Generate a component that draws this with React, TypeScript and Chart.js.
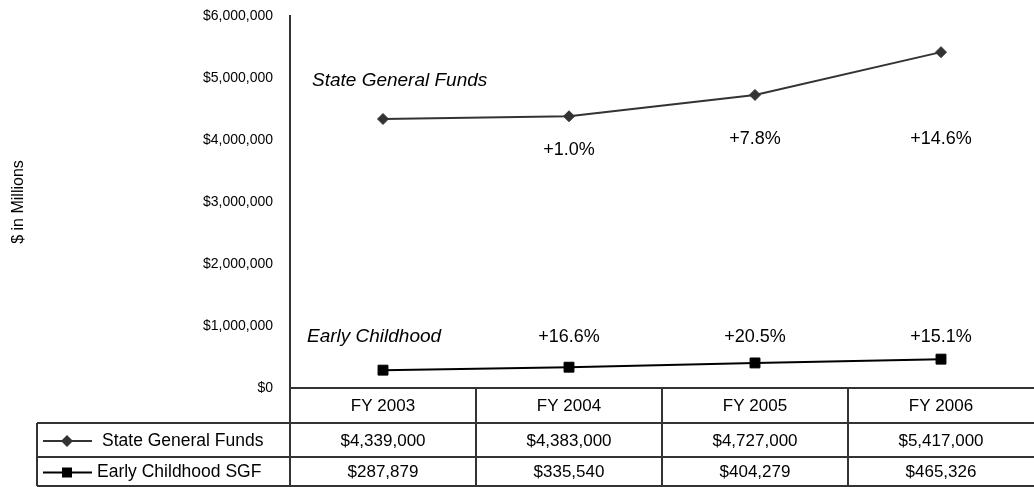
import React, { useEffect, useRef } from 'react';
import { Chart, registerables } from 'chart.js';

Chart.register(...registerables);

const categories = ['FY 2003', 'FY 2004', 'FY 2005', 'FY 2006'];
const stateGeneralFunds = [4339000, 4383000, 4727000, 5417000];
const earlyChildhoodSGF = [287879, 335540, 404279, 465326];
const sgfGrowth = ['', '+1.0%', '+7.8%', '+14.6%'];
const ecGrowth = ['', '+16.6%', '+20.5%', '+15.1%'];
const seriesTableNames = ['State General Funds', 'Early Childhood SGF'];
const seriesChartTitles = ['State General Funds', 'Early Childhood'];
const yAxisTitle = '$ in Millions';
const yMin = 0;
const yMax = 6000000;
const yStep = 1000000;

const FONT = '"Liberation Sans", Arial, Helvetica, sans-serif';
const LINE = '#333333';

const fmtMoney = (v: number) => '$' + Math.round(v).toLocaleString('en-US');

const tablePlugin = {
  id: 'dataTable',
  afterDraw(chart: any) {
    const ctx: CanvasRenderingContext2D = chart.ctx;
    const xs = chart.scales.x;
    const ys = chart.scales.y;
    const n = categories.length;
    const colW = (xs.right - xs.left) / n;
    const headerTop = chart.chartArea.bottom;
    const row1Top = headerTop + 35;
    const row2Top = row1Top + 34;
    const tableBottom = row2Top + 29;
    const tableLeft = 37;

    ctx.save();
    ctx.strokeStyle = LINE;
    ctx.lineWidth = 2;
    ctx.beginPath();
    [row1Top, row2Top, tableBottom].forEach((yy) => {
      ctx.moveTo(tableLeft, yy);
      ctx.lineTo(xs.right + 2, yy);
    });
    ctx.moveTo(tableLeft, row1Top);
    ctx.lineTo(tableLeft, tableBottom);
    ctx.moveTo(xs.left, headerTop);
    ctx.lineTo(xs.left, tableBottom);
    for (let i = 1; i < n; i++) {
      const bx = Math.round(xs.left + i * colW);
      ctx.moveTo(bx, headerTop);
      ctx.lineTo(bx, tableBottom);
    }
    ctx.stroke();

    // header labels & values
    ctx.fillStyle = '#000';
    ctx.textAlign = 'center';
    ctx.textBaseline = 'middle';
    ctx.font = `17px ${FONT}`;
    const r0 = (headerTop + row1Top) / 2 + 1;
    const r1 = (row1Top + row2Top) / 2 + 1;
    const r2 = (row2Top + tableBottom) / 2 + 1;
    categories.forEach((c, i) => {
      const cx = xs.getPixelForValue(i);
      ctx.fillText(c, cx, r0);
      ctx.fillText(fmtMoney(stateGeneralFunds[i]), cx, r1);
      ctx.fillText(fmtMoney(earlyChildhoodSGF[i]), cx, r2);
    });

    // legend keys
    ctx.strokeStyle = LINE;
    ctx.lineWidth = 2;
    ctx.beginPath();
    ctx.moveTo(43, r1);
    ctx.lineTo(92, r1);
    ctx.stroke();
    ctx.fillStyle = LINE;
    ctx.beginPath();
    ctx.moveTo(67 - 6, r1);
    ctx.lineTo(67, r1 - 6);
    ctx.lineTo(67 + 6, r1);
    ctx.lineTo(67, r1 + 6);
    ctx.closePath();
    ctx.fill();

    ctx.strokeStyle = '#000';
    ctx.beginPath();
    ctx.moveTo(43, r2);
    ctx.lineTo(92, r2);
    ctx.stroke();
    ctx.fillStyle = '#000';
    ctx.fillRect(62, r2 - 5, 10, 10);

    ctx.fillStyle = '#000';
    ctx.textAlign = 'left';
    ctx.font = `17.5px ${FONT}`;
    ctx.fillText(seriesTableNames[0], 102, r1);
    ctx.fillText(seriesTableNames[1], 97, r2);

    // in-chart annotations
    ctx.font = `italic 19px ${FONT}`;
    ctx.fillText(seriesChartTitles[0], xs.left + 22, ys.getPixelForValue(4950000));
    ctx.fillText(seriesChartTitles[1], xs.left + 17, ys.getPixelForValue(820000));

    ctx.textAlign = 'center';
    ctx.font = `18px ${FONT}`;
    const sgfLabelVals = [0, 3840000, 4020000, 4020000];
    sgfGrowth.forEach((t, i) => {
      if (!t) return;
      ctx.fillText(t, xs.getPixelForValue(i), ys.getPixelForValue(sgfLabelVals[i]));
    });
    ecGrowth.forEach((t, i) => {
      if (!t) return;
      ctx.fillText(t, xs.getPixelForValue(i), ys.getPixelForValue(820000));
    });
    ctx.restore();
  },
};

export default function App() {
  const ref = useRef<HTMLCanvasElement | null>(null);

  useEffect(() => {
    if (!ref.current) return;
    Chart.defaults.font.family = FONT;
    const chart = new Chart(ref.current, {
      type: 'line',
      data: {
        labels: categories,
        datasets: [
          {
            label: seriesTableNames[0],
            data: stateGeneralFunds,
            borderColor: LINE,
            borderWidth: 2,
            pointStyle: 'rectRot',
            pointRadius: 5.5,
            pointBackgroundColor: LINE,
            pointBorderColor: LINE,
            pointBorderWidth: 1,
            tension: 0,
            clip: false,
          },
          {
            label: seriesTableNames[1],
            data: earlyChildhoodSGF,
            borderColor: '#000',
            borderWidth: 2,
            pointStyle: 'rect',
            pointRadius: 7,
            pointBackgroundColor: '#000',
            pointBorderColor: '#000',
            pointBorderWidth: 1,
            tension: 0,
            clip: false,
          },
        ],
      },
      options: {
        responsive: false,
        animation: false,
        devicePixelRatio: 1,
        layout: { autoPadding: false, padding: { top: 16, left: 0, right: -3, bottom: 0 } },
        plugins: {
          legend: { display: false },
          tooltip: { enabled: false },
        },
        scales: {
          x: {
            offset: true,
            ticks: { display: false },
            grid: { display: false, drawTicks: false },
            border: { display: true, color: LINE, width: 2 },
            afterFit: (s: any) => {
              s.height = 99;
              s.paddingLeft = 0;
              s.paddingRight = 0;
            },
          },
          y: {
            min: yMin,
            max: yMax,
            ticks: {
              stepSize: yStep,
              color: '#000',
              padding: 17,
              font: { size: 14, family: FONT },
              callback: (v: any) => fmtMoney(Number(v)),
            },
            grid: { display: false, drawTicks: false },
            border: { display: true, color: LINE, width: 2 },
            title: {
              display: true,
              text: yAxisTitle,
              color: '#000',
              font: { size: 16, family: FONT },
              padding: { top: 9, bottom: 0 },
            },
            afterFit: (s: any) => {
              s.width = 290;
              s.paddingTop = 0;
              s.paddingBottom = 0;
            },
          },
        },
      },
      plugins: [tablePlugin],
    });
    return () => chart.destroy();
  }, []);

  return (
    <div style={{ position: 'fixed', left: 0, top: 0, width: 1034, height: 487, background: '#fff' }}>
      <canvas ref={ref} width={1034} height={487} style={{ display: 'block' }} />
    </div>
  );
}
